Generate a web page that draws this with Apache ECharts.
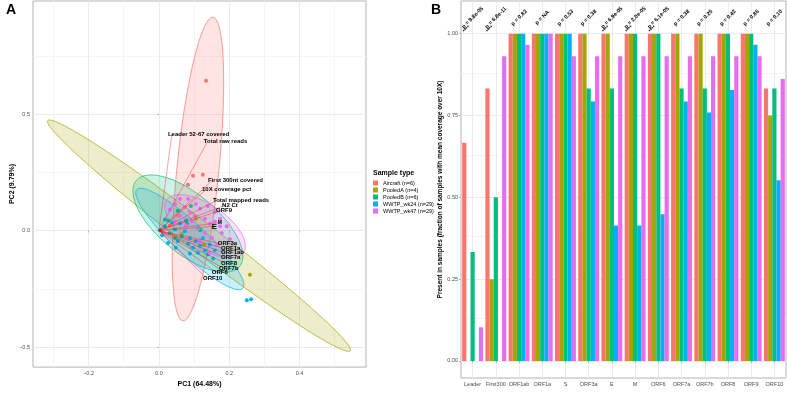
<!DOCTYPE html>
<html><head><meta charset="utf-8">
<script src="https://cdn.jsdelivr.net/npm/echarts@6/dist/echarts.min.js"></script>
<style>html,body{margin:0;padding:0;background:#fff}#c{width:787px;height:393px}</style>
</head><body><div id="c"></div>
<script>
// ---------- shared ----------
const groups = ['Aircraft (n=6)', 'PooledA (n=4)', 'PooledB (n=6)', 'WWTP_wk24 (n=29)', 'WWTP_wk47 (n=29)'];
const groupColors = ['#F8766D', '#A3A500', '#00BF7D', '#00B0F6', '#E76BF3'];

// ---------- Panel A: PCA scores (PC1, PC2) ----------
const scoresAircraft = [[0.134,0.643],[0.125,0.239],[0.097,0.235],[0.083,0.197],[0.054,0.064],[0.031,0.022]];
const scoresPooledA = [[0.259,-0.190],[0.105,0.051],[0.065,-0.015],[0.128,-0.061]];
const scoresPooledB = [[0.026,0.043],[0.054,0.085],[0.091,0.105],[0.080,0.030],[0.046,-0.032],[0.117,0.001]];
const scoresWk24 = [[0.003,0.001],[0.017,0.018],[0.031,-0.011],[0.046,0.005],[0.054,-0.045],[0.065,-0.024],[0.074,-0.003],[0.083,-0.057],[0.088,-0.032],[0.097,-0.074],[0.105,-0.045],[0.111,-0.095],[0.117,-0.065],[0.131,-0.086],[0.139,-0.103],[0.145,-0.061],[0.154,-0.120],[0.017,0.047],[0.037,0.035],[0.060,0.030],[0.077,0.043],[0.009,-0.020],[0.026,-0.053],[0.088,-0.099],[0.125,-0.032],[0.159,-0.086],[0.048,-0.074],[0.250,-0.299],[0.262,-0.295]];
const scoresWk47 = [[0.031,0.089],[0.046,0.114],[0.060,0.135],[0.074,0.101],[0.088,0.080],[0.102,0.064],[0.117,0.093],[0.131,0.051],[0.145,0.030],[0.159,0.039],[0.174,0.018],[0.193,0.018],[0.151,-0.032],[0.165,-0.061],[0.131,-0.011],[0.111,0.010],[0.094,0.039],[0.077,0.022],[0.060,0.064],[0.046,0.039],[0.139,0.105],[0.159,0.080],[0.179,-0.011],[0.202,-0.036],[0.117,-0.045],[0.145,-0.095],[0.083,0.135],[0.105,0.114],[0.174,0.051]];
// confidence ellipses: centre (PC1, PC2) and two conjugate semi-axis vectors, in PC units
const ellipseCentre = [[0.111,0.264],[0.114,-0.022],[0.0825,0.030],[0.088,-0.036],[0.131,0.018]];
const ellipseAxisA = [[0.0427,0.651],[0.430,-0.494],[0.146,-0.186],[0.1505,-0.2125],[0.109,-0.114]];
const ellipseAxisB = [[0.0595,-0.0083],[-0.0263,-0.0492],[-0.056,-0.0944],[-0.0316,-0.048],[-0.0364,-0.0746]];
// loadings
const loadingNames = ['Leader 52-67 covered','Total raw reads','First 300nt covered','10X coverage pct','Total mapped reads','N2 Ct','ORF9','E','M','ORF3a','ORF1a','ORF1ab','ORF7a','ORF8','ORF7b','ORF6','ORF10'];
const loadingPC1 = [0.037,0.139,0.151,0.134,0.165,0.191,0.174,0.162,0.179,0.179,0.188,0.188,0.188,0.188,0.182,0.162,0.137];
const loadingPC2 = [0.414,0.384,0.214,0.176,0.130,0.110,0.085,0.018,0.035,-0.057,-0.078,-0.095,-0.115,-0.140,-0.161,-0.178,-0.207];
const pc1Ticks = [-0.2, 0, 0.2, 0.4];
const pc1Minor = [-0.3, -0.1, 0.1, 0.3, 0.5];
const pc2Ticks = [-0.5, 0, 0.5];
const pc2Minor = [-0.25, 0.25, 0.75];

// ---------- Panel B: fraction of samples ----------
const genes = ['Leader','First300','ORF1ab','ORF1a','S','ORF3a','E','M','ORF6','ORF7a','ORF7b','ORF8','ORF9','ORF10'];
const fracAircraft = [0.667,0.833,1,1,1,1,1,1,1,1,1,1,1,0.833];
const fracPooledA = [0,0.25,1,1,1,1,1,1,1,1,1,1,1,0.75];
const fracPooledB = [0.333,0.5,1,1,1,0.833,0.833,1,1,0.833,0.833,1,1,0.833];
const fracWk24 = [0,0,1,1,1,0.793,0.414,0.414,0.448,0.793,0.759,0.828,0.966,0.552];
const fracWk47 = [0.103,0.931,0.966,1,0.931,0.931,0.931,0.931,0.931,0.931,0.931,0.931,0.931,0.862];
const pLabels = ['p = 9.8e-05','p = 6.8e-11','p = 0.82','p = NA','p = 0.53','p = 0.38','p = 6.9e-05','p = 2.0e-05','p = 6.1e-05','p = 0.38','p = 0.25','p = 0.42','p = 0.86','p = 0.10'];
const pStars = ['****','****','','','','','****','****','****','','','','',''];
const fracTicks = [0, 0.25, 0.5, 0.75, 1];
const fracMinor = [0.125, 0.375, 0.625, 0.875];

// ---------- rendering ----------
const FF = '"Liberation Sans", Arial, Helvetica, sans-serif';
const MAJOR = '#EBEBEB', MINOR = '#F5F5F5', BORDER = '#B3B3B3', TICKTXT = '#4D4D4D';
function rgba(hex, a) { const n = parseInt(hex.slice(1), 16); return 'rgba(' + (n >> 16 & 255) + ',' + (n >> 8 & 255) + ',' + (n & 255) + ',' + a + ')'; }
const signed1 = v => (v < 0 ? '\u2212' : '') + Math.abs(v).toFixed(1);
const scoreSets = [scoresAircraft, scoresPooledA, scoresPooledB, scoresWk24, scoresWk47];
const fracSets = [fracAircraft, fracPooledA, fracPooledB, fracWk24, fracWk47];
const labelSize = { E: 8, M: 5 };
const P_Y = 1.049;

function gridLines(xs, ys, color) {
  return xs.map(v => ({ xAxis: v, lineStyle: { color: color, width: 1, type: 'solid' } }))
    .concat(ys.map(v => ({ yAxis: v, lineStyle: { color: color, width: 1, type: 'solid' } })));
}
const markBase = { silent: true, z: 0, zlevel: 0, symbol: ['none', 'none'], label: { show: false }, emphasis: { disabled: true }, animation: false };

const series = [];
// grid lines A
series.push({ type: 'scatter', xAxisIndex: 0, yAxisIndex: 0, data: [[0, 0]], symbolSize: 0, silent: true, z: 0,
  markLine: Object.assign({}, markBase, { data: gridLines(pc1Minor, pc2Minor, MINOR).concat(gridLines(pc1Ticks, pc2Ticks, MAJOR)) }) });
// grid lines B
series.push({ type: 'scatter', xAxisIndex: 1, yAxisIndex: 1, data: [[0, 0]], symbolSize: 0, silent: true, z: 0,
  markLine: Object.assign({}, markBase, { data: gridLines([], fracMinor, MINOR).concat(gridLines(genes, fracTicks, MAJOR)) }) });
// ellipses
series.push({
  type: 'custom', xAxisIndex: 0, yAxisIndex: 0, silent: true, z: 1, clip: true,
  data: ellipseCentre.map((c, i) => [c[0], c[1], ellipseAxisA[i][0], ellipseAxisA[i][1], ellipseAxisB[i][0], ellipseAxisB[i][1]]),
  renderItem: function (params, api) {
    const cx = api.value(0), cy = api.value(1), ax = api.value(2), ay = api.value(3), bx = api.value(4), by = api.value(5);
    const pts = [];
    for (let k = 0; k < 120; k++) {
      const t = 2 * Math.PI * k / 120;
      pts.push(api.coord([cx + ax * Math.cos(t) + bx * Math.sin(t), cy + ay * Math.cos(t) + by * Math.sin(t)]));
    }
    const col = groupColors[params.dataIndex];
    return { type: 'polygon', shape: { points: pts }, style: { fill: rgba(col, 0.2), stroke: col, lineWidth: 0.7 } };
  }
});
// points
scoreSets.forEach((pts, i) => {
  series.push({ type: 'scatter', name: groups[i], xAxisIndex: 0, yAxisIndex: 0, data: pts, symbolSize: 4,
    itemStyle: { color: groupColors[i], opacity: 1 }, z: 3, silent: true });
});
// loading arrows
series.push({
  type: 'custom', xAxisIndex: 0, yAxisIndex: 0, silent: true, z: 4,
  data: loadingPC1.map((x, i) => [x, loadingPC2[i]]),
  renderItem: function (params, api) {
    const o = api.coord([0, 0]), e = api.coord([api.value(0), api.value(1)]);
    return { type: 'line', shape: { x1: o[0], y1: o[1], x2: e[0], y2: e[1] }, style: { stroke: 'rgba(255,0,0,0.6)', lineWidth: 0.6 } };
  }
});
// loading labels
series.push({
  type: 'custom', xAxisIndex: 0, yAxisIndex: 0, silent: true, z: 6,
  data: loadingPC1.map((x, i) => [x, loadingPC2[i]]),
  renderItem: function (params, api) {
    const e = api.coord([api.value(0), api.value(1)]);
    const name = loadingNames[params.dataIndex];
    const sz = labelSize[name] || 6;
    return { type: 'text', x: e[0] - 4, y: e[1], style: { text: name, font: 'bold ' + sz + 'px ' + FF, fill: '#000', align: 'left', verticalAlign: 'middle' } };
  }
});
// bars
fracSets.forEach((vals, i) => {
  series.push({ type: 'bar', name: groups[i], xAxisIndex: 1, yAxisIndex: 1, data: vals, barGap: '0%', barCategoryGap: '10%',
    itemStyle: { color: groupColors[i] }, z: 2, silent: true });
});
// p-values
series.push({
  type: 'custom', xAxisIndex: 1, yAxisIndex: 1, silent: true, z: 6, clip: false,
  data: pLabels.map((t, i) => [i, P_Y]),
  renderItem: function (params, api) {
    const p = api.coord([api.value(0), api.value(1)]);
    const kids = [{ type: 'text', x: p[0], y: p[1], rotation: Math.PI / 4,
      style: { text: pLabels[params.dataIndex], font: 'bold 5.5px ' + FF, fill: '#000', align: 'center', verticalAlign: 'middle' } }];
    const s = pStars[params.dataIndex];
    if (s) kids.push({ type: 'text', x: p[0] - 6, y: p[1] + 11.5, rotation: Math.PI / 4,
      style: { text: s, font: 'bold 5px ' + FF, fill: '#000', align: 'center', verticalAlign: 'middle' } });
    return { type: 'group', children: kids };
  }
});

const option = {
  animation: false,
  backgroundColor: '#fff',
  textStyle: { fontFamily: FF },
  title: [
    { text: 'A', left: 1, top: -2, textStyle: { fontSize: 14, fontWeight: 'bold', color: '#000', fontFamily: FF } },
    { text: 'B', left: 426, top: -2, textStyle: { fontSize: 14, fontWeight: 'bold', color: '#000', fontFamily: FF } },
    { text: 'Sample type', left: 373, top: 170, padding: 0, textStyle: { fontSize: 7, fontWeight: 'bold', color: '#000', fontFamily: FF } }
  ],
  legend: {
    data: groups.map(n => ({ name: n, icon: 'rect' })), orient: 'vertical', left: 373, top: 180, padding: 0,
    itemWidth: 5, itemHeight: 5, itemGap: 1, selectedMode: false,
    textStyle: { fontSize: 5.5, color: '#000', fontFamily: FF }
  },
  grid: [
    { left: 33, top: 1, width: 333, height: 377, show: true, borderColor: BORDER, borderWidth: 1, backgroundColor: 'transparent' },
    { left: 461, top: 1, width: 325, height: 377, show: true, borderColor: BORDER, borderWidth: 1, backgroundColor: 'transparent' }
  ],
  xAxis: [
    { type: 'value', gridIndex: 0, min: -0.358, max: 0.589, name: 'PC1 (64.48%)', nameLocation: 'middle', nameGap: 10,
      nameTextStyle: { fontSize: 7, fontWeight: 'bold', color: '#000', fontFamily: FF },
      axisLine: { show: false }, splitLine: { show: false },
      axisTick: { show: true, length: 2, lineStyle: { color: BORDER }, customValues: pc1Ticks },
      axisLabel: { customValues: pc1Ticks, formatter: signed1, fontSize: 5.5, color: TICKTXT, margin: 3, fontFamily: FF } },
    { type: 'category', gridIndex: 1, data: genes, axisLine: { show: false }, splitLine: { show: false },
      axisTick: { show: true, alignWithLabel: true, length: 2, lineStyle: { color: BORDER } },
      axisLabel: { interval: 0, fontSize: 5.5, color: TICKTXT, margin: 3, fontFamily: FF } }
  ],
  yAxis: [
    { type: 'value', gridIndex: 0, min: -0.586, max: 0.985, name: 'PC2 (9.79%)', nameLocation: 'middle', nameGap: 17,
      nameTextStyle: { fontSize: 7, fontWeight: 'bold', color: '#000', fontFamily: FF },
      axisLine: { show: false }, splitLine: { show: false },
      axisTick: { show: true, length: 2, lineStyle: { color: BORDER }, customValues: pc2Ticks },
      axisLabel: { customValues: pc2Ticks, formatter: signed1, fontSize: 5.5, color: TICKTXT, margin: 3, fontFamily: FF } },
    { type: 'value', gridIndex: 1, min: -0.052, max: 1.1, name: 'Present in samples (fraction of samples with mean coverage over 10X)',
      nameLocation: 'middle', nameGap: 17, nameTextStyle: { fontSize: 6.5, fontWeight: 'bold', color: '#000', fontFamily: FF },
      axisLine: { show: false }, splitLine: { show: false },
      axisTick: { show: true, length: 2, lineStyle: { color: BORDER }, customValues: fracTicks },
      axisLabel: { customValues: fracTicks, formatter: v => v.toFixed(2), fontSize: 5.5, color: TICKTXT, margin: 3, fontFamily: FF } }
  ],
  series: series
};
const chart = echarts.init(document.getElementById('c'));
chart.setOption(option);
</script></body></html>
